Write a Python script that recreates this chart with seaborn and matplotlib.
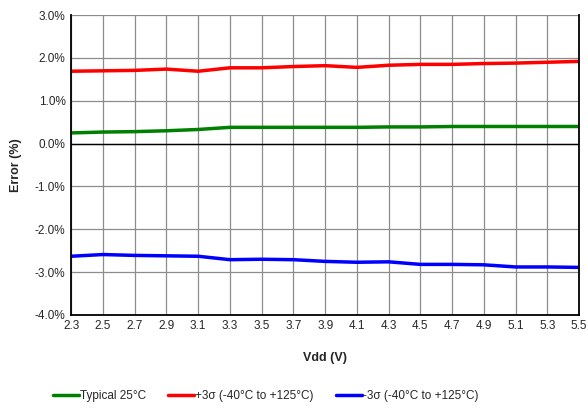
import numpy as np
import pandas as pd
import seaborn as sns
import matplotlib.pyplot as plt
from matplotlib.ticker import FuncFormatter

# 데이터
vdd = [2.3, 2.5, 2.7, 2.9, 3.1, 3.3, 3.5, 3.7, 3.9, 4.1, 4.3, 4.5, 4.7, 4.9, 5.1, 5.3, 5.5]
typical = [0.25, 0.27, 0.28, 0.30, 0.33, 0.38, 0.38, 0.38, 0.38, 0.38, 0.39, 0.39, 0.40, 0.40, 0.40, 0.40, 0.40]
plus3s = [1.69, 1.70, 1.71, 1.74, 1.69, 1.77, 1.77, 1.80, 1.82, 1.78, 1.83, 1.85, 1.85, 1.87, 1.88, 1.90, 1.92]
minus3s = [-2.63, -2.59, -2.61, -2.62, -2.63, -2.71, -2.70, -2.71, -2.75, -2.77, -2.76, -2.82, -2.82, -2.83, -2.88, -2.88, -2.89]
labels = ['Typical 25°C', '+3σ (-40°C to +125°C)', '-3σ (-40°C to +125°C)']
colors = ['#008000', '#ff0000', '#0000ff']

df = pd.DataFrame({'Vdd': vdd * 3,
                   'Error': typical + plus3s + minus3s,
                   'series': [labels[0]] * len(vdd) + [labels[1]] * len(vdd) + [labels[2]] * len(vdd)})

sns.set_style('white')
plt.rcParams['font.family'] = ['Liberation Sans', 'DejaVu Sans']

fig = plt.figure(figsize=(5.88, 4.09), dpi=100)
ax = fig.add_axes([0.121, 0.230, 0.864, 0.733])

sns.lineplot(data=df, x='Vdd', y='Error', hue='series',
             palette=colors, linewidth=2.5, ax=ax, legend=False)

ax.set_xlim(2.3, 5.5)
ax.set_ylim(-4.0, 3.0)
ax.set_xticks(np.arange(2.3, 5.51, 0.2))
ax.set_yticks(np.arange(-4.0, 3.01, 1.0))
ax.xaxis.set_major_formatter(FuncFormatter(lambda v, p: f'{v:.1f}'))
ax.yaxis.set_major_formatter(FuncFormatter(lambda v, p: f'{v:.1f}%'))
ax.grid(True, color='#8c8c8c', linewidth=0.9)
ax.set_axisbelow(True)
ax.axhline(0, color='black', linewidth=1.0, zorder=1.5)
ax.tick_params(labelsize=8.5, length=0, pad=4)

for s in ['left', 'bottom', 'right']:
    ax.spines[s].set_visible(True)
    ax.spines[s].set_color('black')
    ax.spines[s].set_linewidth(1.3)
ax.spines['top'].set_visible(False)

ax.set_xlabel('Vdd (V)', fontsize=9, fontweight='bold', labelpad=14)
ax.set_ylabel('Error (%)', fontsize=9, fontweight='bold', labelpad=9)

handles = [plt.Line2D([], [], color=c, linewidth=2.5) for c in colors]
fig.legend(handles, labels, loc='center', bbox_to_anchor=(0.452, 0.032), ncol=3,
           frameon=False, fontsize=8.5, handlelength=2.2, handletextpad=0.1, columnspacing=1.85)

plt.savefig('out.png', dpi=100)
